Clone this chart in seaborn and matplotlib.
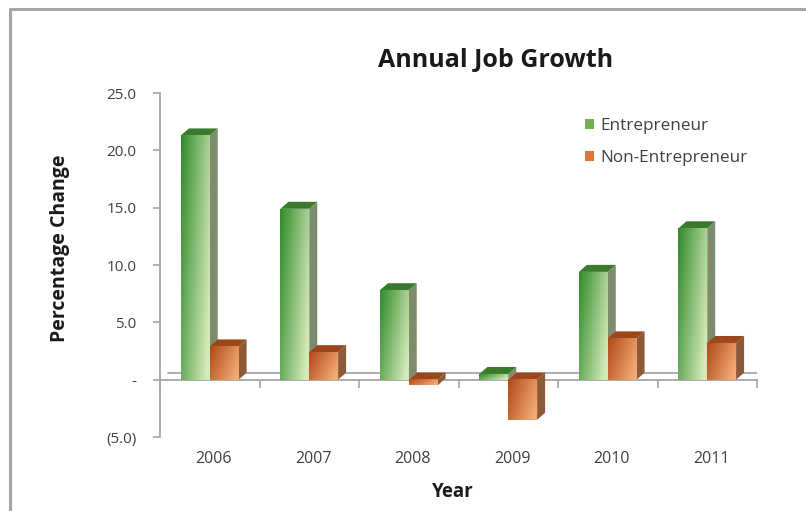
import numpy as np
import pandas as pd
import matplotlib
matplotlib.use("Agg")
import matplotlib.pyplot as plt
import seaborn as sns
from matplotlib.patches import Polygon, Patch
from matplotlib.lines import Line2D
from matplotlib.colors import to_rgb

# ---- data ----
years = ["2006", "2007", "2008", "2009", "2010", "2011"]
entrepreneur = [21.3, 14.9, 7.8, 0.5, 9.4, 13.2]
non_entrepreneur = [2.9, 2.4, -0.5, -3.5, 3.6, 3.2]
series_names = ["Entrepreneur", "Non-Entrepreneur"]
y_ticks = [-5, 0, 5, 10, 15, 20, 25]
y_tick_labels = ["(5.0)", "-", "5.0", "10.0", "15.0", "20.0", "25.0"]

df = pd.DataFrame({
    "Year": years * 2,
    "Value": entrepreneur + non_entrepreneur,
    "Series": [series_names[0]] * len(years) + [series_names[1]] * len(years),
})

W, H = 806, 511
sns.set_style("white")
plt.rcParams["font.family"] = ["Open Sans", "DejaVu Sans"]

fig = plt.figure(figsize=(W / 100, H / 100), dpi=100)
fig.patch.set_facecolor("white")
ax = fig.add_axes([160 / W, (H - 437) / H, 597 / W, (437 - 93) / H])

base_colors = {"Entrepreneur": "#6fb050", "Non-Entrepreneur": "#d8783c"}
sns.barplot(data=df, x="Year", y="Value", hue="Series", order=years,
            hue_order=series_names, palette=base_colors, width=0.58,
            saturation=1, ax=ax, legend=False, zorder=3)

ax.set_xlim(-0.5, len(years) - 0.5)
ax.set_ylim(-5, 25)

# styles for pseudo-3D faces
styles = {
    "Entrepreneur": dict(dark="#2f8a2a", light="#d4eab8", side="#7d8c6c", top="#3a7a2c", z=3),
    "Non-Entrepreneur": dict(dark="#b04818", light="#f4ac74", side="#8c5a38", top="#9c461c", z=4),
}

def gradient_img(dark, light, n=64):
    d = np.array(to_rgb(dark)); l = np.array(to_rgb(light))
    xs = np.linspace(0, 1, n)[None, :]
    ys = np.linspace(0, 1, n)[:, None]  # 0 at top row
    t = np.clip(0.75 * xs + 0.35 * ys, 0, 1)
    return d[None, None, :] * (1 - t[..., None]) + l[None, None, :] * t[..., None]

fig.canvas.draw()
dx, dy = 8, 7  # depth in pixels
bars = list(ax.patches)
for p in bars:
    fc = p.get_facecolor()
    name = None
    for k, c in base_colors.items():
        if np.allclose(fc[:3], to_rgb(c), atol=0.02):
            name = k
    if name is None:
        continue
    st = styles[name]
    x0 = p.get_x(); w = p.get_width()
    y0 = p.get_y(); h = p.get_height()
    ylo, yhi = min(y0, y0 + h), max(y0, y0 + h)
    p.set_visible(False)
    ax.imshow(gradient_img(st["dark"], st["light"]), extent=[x0, x0 + w, ylo, yhi],
              aspect="auto", origin="upper", zorder=st["z"] + 0.2, interpolation="bilinear")
    (px0, pylo) = ax.transData.transform((x0, ylo))
    (px1, pyhi) = ax.transData.transform((x0 + w, yhi))
    side = Polygon([(px1, pylo), (px1, pyhi), (px1 + dx, pyhi + dy), (px1 + dx, pylo + dy)],
                   closed=True, transform=None, facecolor=st["side"], edgecolor="none",
                   zorder=st["z"] + 0.1)
    top = Polygon([(px0, pyhi), (px1, pyhi), (px1 + dx, pyhi + dy), (px0 + dx, pyhi + dy)],
                  closed=True, transform=None, facecolor=st["top"], edgecolor="none",
                  zorder=st["z"] + 0.1)
    ax.add_artist(side); ax.add_artist(top)

ax.set_xlim(-0.5, len(years) - 0.5)
ax.set_ylim(-5, 25)

# back floor line (zero plane shifted by depth)
(zx0, zy) = ax.transData.transform((-0.5, 0))
(zx1, _) = ax.transData.transform((len(years) - 0.5, 0))
ax.add_artist(Line2D([zx0 + dx, zx1 + dx], [zy + dy, zy + dy], transform=None,
                     color="#a6a6a6", lw=1.3, zorder=1))

# spines
for s in ["top", "right"]:
    ax.spines[s].set_visible(False)
ax.spines["bottom"].set_position(("data", 0))
ax.spines["left"].set_color("#a6a6a6")
ax.spines["bottom"].set_color("#a6a6a6")
ax.spines["left"].set_linewidth(1.3)
ax.spines["bottom"].set_linewidth(1.3)

ax.set_yticks(y_ticks)
ax.set_yticklabels(y_tick_labels)
ax.tick_params(axis="y", direction="out", length=5, color="#a6a6a6", width=1.2,
               labelsize=11, labelcolor="#404040", pad=12, left=True)

ax.set_xticks(range(len(years)))
ax.set_xticklabels([])
ax.set_xticks(np.arange(-0.5, len(years)), minor=True)
ax.tick_params(axis="x", which="major", length=0)
ax.tick_params(axis="x", which="minor", direction="out", length=6, color="#a6a6a6", width=1.2, bottom=True)
for i, yr in enumerate(years):
    ax.text(i + 0.04, -6.95, yr, ha="center", va="center", fontsize=11.5, color="#404040")

ax.set_xlabel("")
ax.set_ylabel("")
fig.text(453 / W, 1 - 492 / H, "Year", ha="center", va="center", fontsize=13.5,
         fontweight="bold", color="#1a1a1a")
fig.text(60 / W, 1 - 248 / H, "Percentage Change", ha="center", va="center",
         rotation=90, fontsize=14, fontweight="bold", color="#1a1a1a")
fig.text(496 / W, 1 - 60 / H, "Annual Job Growth", ha="center", va="center",
         fontsize=18, fontweight="bold", color="#1a1a1a")

# legend
handles = [Patch(facecolor=base_colors[n], edgecolor="none") for n in series_names]
leg = ax.legend(handles, series_names, loc="upper left", bbox_to_anchor=(578 / W, 1 - 111 / H),
                bbox_transform=fig.transFigure, frameon=False, fontsize=12.3,
                handlelength=0.55, handleheight=0.55, handletextpad=0.35,
                labelspacing=0.95, borderaxespad=0)
for t in leg.get_texts():
    t.set_color("#404040")

# outer border (left & top)
fig.add_artist(Line2D([10 / W, 10 / W], [0, 1 - 9 / H], transform=fig.transFigure,
                      color="#a6a6a6", lw=2.2))
fig.add_artist(Line2D([10 / W, 1], [1 - 9 / H, 1 - 9 / H], transform=fig.transFigure,
                      color="#a6a6a6", lw=2.2))

fig.savefig("out.png", dpi=100, facecolor="white")
